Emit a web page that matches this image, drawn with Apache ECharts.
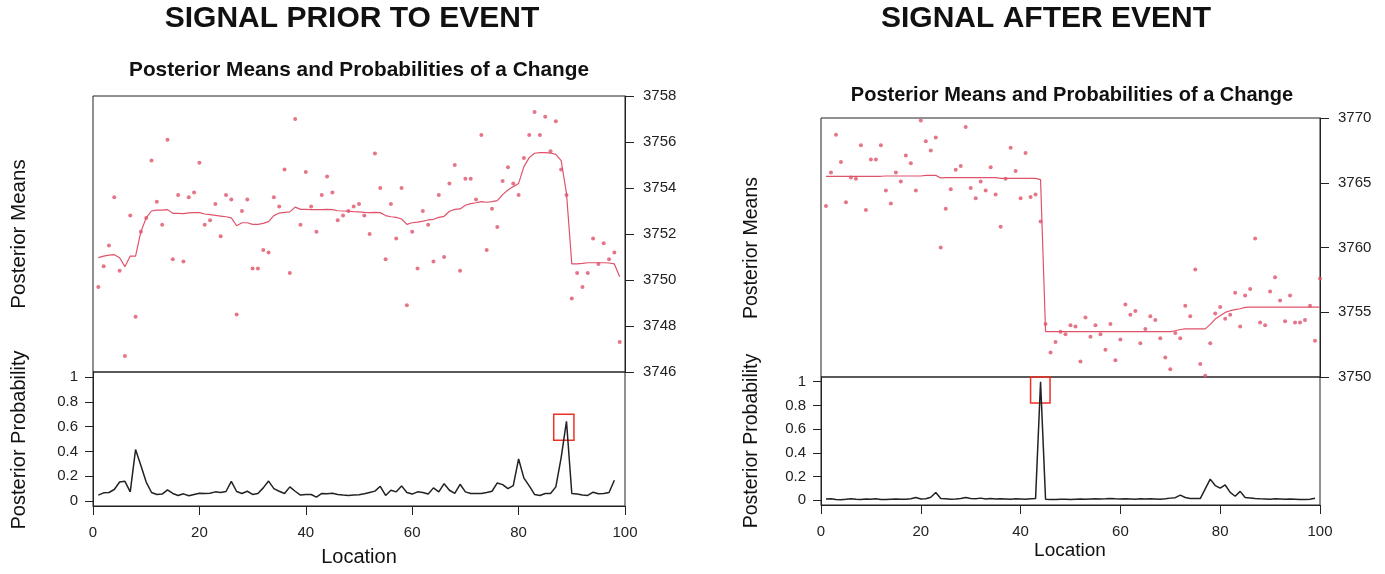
<!DOCTYPE html>
<html lang="en" style="height: 100%">
<head>
  <meta charset="utf-8">
</head>
<body style="height: 100%; margin: 0; background: #fff">
  <div id="container" style="width: 1385px; height: 574px"></div>

  <script type="text/javascript" src="https://cdn.jsdelivr.net/npm/echarts@6/dist/echarts.min.js"></script>

  <script type="text/javascript">
    // signal before the event: observed values, posterior means, change probabilities
    var priorObserved = [
      3749.7, 3750.6, 3751.5, 3753.6, 3750.4, 3746.7, 3752.8, 3748.4, 3752.1, 3752.7,
      3755.2, 3753.4, 3752.4, 3756.1, 3750.9, 3753.7, 3750.8, 3753.6, 3753.8, 3755.1,
      3752.4, 3752.6, 3753.3, 3751.9, 3753.7, 3753.5, 3748.5, 3753.0, 3753.5, 3750.5,
      3750.5, 3751.3, 3751.2, 3753.6, 3753.2, 3754.8, 3750.3, 3757.0, 3752.4, 3754.7,
      3753.2, 3752.1, 3753.7, 3754.5, 3753.8, 3752.6, 3752.8, 3753.0, 3753.2, 3753.3,
      3752.8, 3752.0, 3755.5, 3754.0, 3750.9, 3753.3, 3751.8, 3754.0, 3748.9, 3752.1,
      3750.5, 3753.0, 3752.4, 3750.8, 3753.7, 3751.0, 3754.2, 3755.0, 3750.4, 3754.4,
      3754.4, 3753.5, 3756.3, 3751.3, 3753.1, 3752.3, 3754.3, 3754.9, 3754.2, 3753.7,
      3755.3, 3756.3, 3757.3, 3756.3, 3757.1, 3755.6, 3756.9, 3754.8, 3753.7, 3749.2,
      3750.3, 3749.7, 3750.3, 3751.8, 3750.7, 3751.6, 3750.9, 3751.2, 3747.3
    ];
    var priorMeans = [
      3750.97, 3751.04, 3751.08, 3751.10, 3750.97, 3750.58, 3751.04, 3751.04, 3752.10, 3752.70,
      3753.00, 3753.04, 3753.04, 3753.06, 3752.90, 3752.90, 3752.89, 3752.92, 3752.93, 3752.93,
      3752.87, 3752.84, 3752.81, 3752.78, 3752.75, 3752.70, 3752.36, 3752.49, 3752.49, 3752.42,
      3752.42, 3752.46, 3752.54, 3752.80, 3752.91, 3752.94, 3752.96, 3753.17, 3753.07, 3753.07,
      3753.06, 3753.06, 3753.06, 3753.07, 3753.06, 3753.01, 3753.00, 3752.99, 3752.97, 3752.96,
      3752.94, 3752.93, 3752.94, 3752.93, 3752.80, 3752.75, 3752.72, 3752.65, 3752.42, 3752.49,
      3752.52, 3752.56, 3752.61, 3752.64, 3752.72, 3752.77, 3752.99, 3753.07, 3753.09, 3753.25,
      3753.32, 3753.36, 3753.41, 3753.38, 3753.41, 3753.45, 3753.71, 3753.91, 3754.06, 3754.20,
      3754.93, 3755.32, 3755.51, 3755.54, 3755.54, 3755.52, 3755.46, 3755.19, 3753.77, 3750.70,
      3750.70, 3750.72, 3750.75, 3750.75, 3750.75, 3750.75, 3750.74, 3750.70, 3750.14
    ];
    var priorProb = [
      0.048, 0.066, 0.069, 0.093, 0.153, 0.159, 0.074, 0.415, 0.286, 0.153,
      0.069, 0.053, 0.056, 0.090, 0.061, 0.045, 0.058, 0.042, 0.053, 0.063,
      0.061, 0.063, 0.074, 0.069, 0.077, 0.159, 0.077, 0.061, 0.079, 0.053,
      0.061, 0.106, 0.161, 0.100, 0.079, 0.061, 0.114, 0.079, 0.048, 0.053,
      0.053, 0.032, 0.061, 0.058, 0.063, 0.053, 0.048, 0.045, 0.048, 0.050,
      0.058, 0.069, 0.080, 0.119, 0.045, 0.087, 0.074, 0.122, 0.069, 0.056,
      0.074, 0.069, 0.056, 0.106, 0.074, 0.140, 0.087, 0.061, 0.135, 0.074,
      0.061, 0.061, 0.061, 0.069, 0.079, 0.146, 0.132, 0.100, 0.124, 0.339,
      0.185, 0.122, 0.053, 0.045, 0.061, 0.061, 0.114, 0.350, 0.643, 0.061,
      0.056, 0.048, 0.045, 0.071, 0.058, 0.061, 0.069, 0.167
    ];

    // signal after the event
    var afterObserved = [
      3763.2, 3765.8, 3768.7, 3766.6, 3763.5, 3765.4, 3765.3, 3767.9, 3762.9, 3766.8,
      3766.8, 3767.9, 3764.4, 3763.4, 3765.8, 3765.1, 3767.1, 3766.5, 3764.4, 3769.8,
      3768.2, 3767.5, 3768.5, 3760.0, 3763.0, 3764.5, 3766.0, 3766.3, 3769.3, 3764.6,
      3763.8, 3765.1, 3764.4, 3766.2, 3764.1, 3761.6, 3765.3, 3767.7, 3765.9, 3763.8,
      3767.3, 3763.9, 3764.1, 3762.0, 3754.1, 3751.9, 3752.7, 3753.5, 3753.3, 3754.0,
      3753.9, 3751.2, 3754.6, 3753.1, 3754.0, 3753.3, 3752.1, 3754.1, 3751.3, 3752.9,
      3755.6, 3754.8, 3755.1, 3752.6, 3753.7, 3754.7, 3754.4, 3753.0, 3751.5, 3750.6,
      3753.4, 3753.0, 3755.5, 3754.7, 3758.3, 3751.0, 3750.1, 3752.6, 3754.9, 3755.4,
      3754.5, 3754.8, 3756.5, 3753.9, 3756.3, 3756.8, 3760.7, 3754.2, 3754.0, 3756.6,
      3757.7, 3755.9, 3754.3, 3756.3, 3754.2, 3754.2, 3754.4, 3755.5, 3752.8, 3757.6
    ];
    var afterMeans = [
      3765.50, 3765.50, 3765.50, 3765.50, 3765.50, 3765.50, 3765.50, 3765.50, 3765.50, 3765.50,
      3765.50, 3765.50, 3765.52, 3765.52, 3765.52, 3765.52, 3765.52, 3765.52, 3765.52, 3765.52,
      3765.57, 3765.57, 3765.57, 3765.37, 3765.40, 3765.40, 3765.40, 3765.40, 3765.40, 3765.40,
      3765.40, 3765.40, 3765.40, 3765.40, 3765.40, 3765.34, 3765.34, 3765.34, 3765.34, 3765.34,
      3765.34, 3765.34, 3765.34, 3765.24, 3753.51, 3753.51, 3753.51, 3753.51, 3753.51, 3753.51,
      3753.51, 3753.51, 3753.51, 3753.51, 3753.51, 3753.51, 3753.51, 3753.51, 3753.51, 3753.51,
      3753.51, 3753.51, 3753.51, 3753.51, 3753.51, 3753.51, 3753.51, 3753.51, 3753.51, 3753.51,
      3753.57, 3753.67, 3753.72, 3753.72, 3753.72, 3753.72, 3753.72, 3754.06, 3754.47, 3754.73,
      3754.99, 3755.12, 3755.20, 3755.27, 3755.38, 3755.40, 3755.40, 3755.40, 3755.40, 3755.40,
      3755.40, 3755.40, 3755.40, 3755.40, 3755.40, 3755.40, 3755.40, 3755.40, 3755.40, 3755.40
    ];
    var afterProb = [
      0.010, 0.012, 0.006, 0.005, 0.008, 0.012, 0.008, 0.006, 0.010, 0.008,
      0.012, 0.007, 0.006, 0.008, 0.010, 0.008, 0.009, 0.012, 0.023, 0.010,
      0.012, 0.025, 0.066, 0.015, 0.012, 0.008, 0.010, 0.015, 0.023, 0.015,
      0.012, 0.018, 0.010, 0.015, 0.010, 0.012, 0.010, 0.008, 0.012, 0.010,
      0.008, 0.012, 0.014, 1.000, 0.008, 0.006, 0.006, 0.008, 0.008, 0.006,
      0.008, 0.010, 0.008, 0.010, 0.012, 0.010, 0.012, 0.015, 0.012, 0.010,
      0.012, 0.010, 0.008, 0.012, 0.010, 0.012, 0.010, 0.008, 0.012, 0.018,
      0.022, 0.043, 0.023, 0.015, 0.014, 0.014, 0.096, 0.178, 0.124, 0.103,
      0.129, 0.066, 0.034, 0.075, 0.023, 0.020, 0.015, 0.012, 0.010, 0.008,
      0.012, 0.010, 0.008, 0.010, 0.008, 0.006, 0.006, 0.008, 0.017
    ];

    // red highlight boxes around the main change point [location, probability]
    var priorHighlight = [[86.6, 0.49], [90.4, 0.70]];
    var afterHighlight = [[42.0, 0.82], [45.9, 1.04]];

    var probTicks = [0, 0.2, 0.4, 0.6, 0.8, 1];

    function withLocation(values) {
      return values.map(function (v, i) { return [i + 1, v]; });
    }

    var RED = '#df536b';
    var INK = '#222';
    var FONT = '"Liberation Sans", Arial, sans-serif';

    var dom = document.getElementById('container');
    var myChart = echarts.init(dom, null, { renderer: 'canvas' });

    var gridStyle = { show: true, borderColor: INK, borderWidth: 1, containLabel: false };

    function hiddenX(gridIndex) {
      return { type: 'value', gridIndex: gridIndex, min: 0, max: 100, show: false };
    }
    function locationX(gridIndex) {
      return {
        type: 'value', gridIndex: gridIndex, min: 0, max: 100, interval: 20,
        axisLine: { show: true, onZero: false, lineStyle: { color: INK, width: 1 } },
        axisTick: { show: true, length: 9, lineStyle: { color: INK } },
        axisLabel: { margin: 19, color: INK, fontSize: 15, fontFamily: FONT },
        splitLine: { show: false }
      };
    }
    function meansY(gridIndex, min, max, step) {
      return {
        type: 'value', gridIndex: gridIndex, position: 'right', min: min, max: max, interval: step,
        axisLine: { show: true, onZero: false, lineStyle: { color: INK, width: 1 } },
        axisTick: { show: true, length: 9, lineStyle: { color: INK } },
        axisLabel: {
          margin: 18, color: INK, fontSize: 15, fontFamily: FONT,
          formatter: function (v) { return String(v); }
        },
        splitLine: { show: false }
      };
    }
    function probY(gridIndex) {
      return {
        type: 'value', gridIndex: gridIndex, min: -0.04, max: 1.04,
        axisLine: { show: true, onZero: false, lineStyle: { color: INK, width: 1 } },
        axisTick: { show: true, length: 8, customValues: probTicks, lineStyle: { color: INK } },
        axisLabel: { margin: 15, color: INK, fontSize: 15, fontFamily: FONT, customValues: probTicks },
        splitLine: { show: false }
      };
    }
    function highlight(box) {
      return {
        silent: true,
        itemStyle: { color: 'rgba(0,0,0,0)', borderColor: '#ee3124', borderWidth: 1.5 },
        data: [[{ coord: box[0] }, { coord: box[1] }]]
      };
    }

    function text(x, y, str, size, bold, rotate) {
      return {
        type: 'text', x: x, y: y, rotation: rotate ? Math.PI / 2 : 0,
        style: {
          text: str, fill: '#111',
          font: (bold ? 'bold ' : '') + size + 'px ' + FONT,
          align: 'center', verticalAlign: 'middle',
          textAlign: 'center', textVerticalAlign: 'middle'
        }
      };
    }

    var option = {
      animation: false,
      backgroundColor: '#fff',
      grid: [
        Object.assign({ left: 93, top: 96, width: 532, height: 276 }, gridStyle),
        Object.assign({ left: 93, top: 372, width: 532, height: 134 }, gridStyle),
        Object.assign({ left: 821, top: 118, width: 499, height: 259 }, gridStyle),
        Object.assign({ left: 821, top: 377, width: 499, height: 128 }, gridStyle)
      ],
      xAxis: [hiddenX(0), locationX(1), hiddenX(2), locationX(3)],
      yAxis: [
        meansY(0, 3746, 3758, 2),
        probY(1),
        meansY(2, 3750, 3770, 5),
        probY(3)
      ],
      graphic: [
        text(352, 19, 'SIGNAL PRIOR TO EVENT', 30, true),
        text(1046, 19, 'SIGNAL AFTER EVENT', 30, true),
        text(359, 70, 'Posterior Means and Probabilities of a Change', 20.8, true),
        text(1072, 95, 'Posterior Means and Probabilities of a Change', 20, true),
        text(19, 234, 'Posterior Means', 20.5, false, true),
        text(19, 440, 'Posterior Probability', 20, false, true),
        text(752, 248, 'Posterior Means', 19.5, false, true),
        text(752, 441, 'Posterior Probability', 19.5, false, true),
        text(359, 557, 'Location', 20, false),
        text(1070, 551, 'Location', 19, false)
      ],
      series: [
        {
          type: 'scatter', xAxisIndex: 0, yAxisIndex: 0, data: withLocation(priorObserved),
          symbolSize: 4, itemStyle: { color: RED }
        },
        {
          type: 'line', xAxisIndex: 0, yAxisIndex: 0, data: withLocation(priorMeans),
          symbol: 'none', lineStyle: { color: RED, width: 1.2 }
        },
        {
          type: 'line', xAxisIndex: 1, yAxisIndex: 1, data: withLocation(priorProb),
          symbol: 'none', lineStyle: { color: INK, width: 1.5 },
          markArea: highlight(priorHighlight)
        },
        {
          type: 'scatter', xAxisIndex: 2, yAxisIndex: 2, data: withLocation(afterObserved),
          symbolSize: 4, itemStyle: { color: RED }
        },
        {
          type: 'line', xAxisIndex: 2, yAxisIndex: 2, data: withLocation(afterMeans),
          symbol: 'none', lineStyle: { color: RED, width: 1.2 }
        },
        {
          type: 'line', xAxisIndex: 3, yAxisIndex: 3, data: withLocation(afterProb),
          symbol: 'none', lineStyle: { color: INK, width: 1.5 },
          markArea: highlight(afterHighlight)
        }
      ]
    };

    myChart.setOption(option);
    window.addEventListener('resize', myChart.resize);
  </script>
</body>
</html>
